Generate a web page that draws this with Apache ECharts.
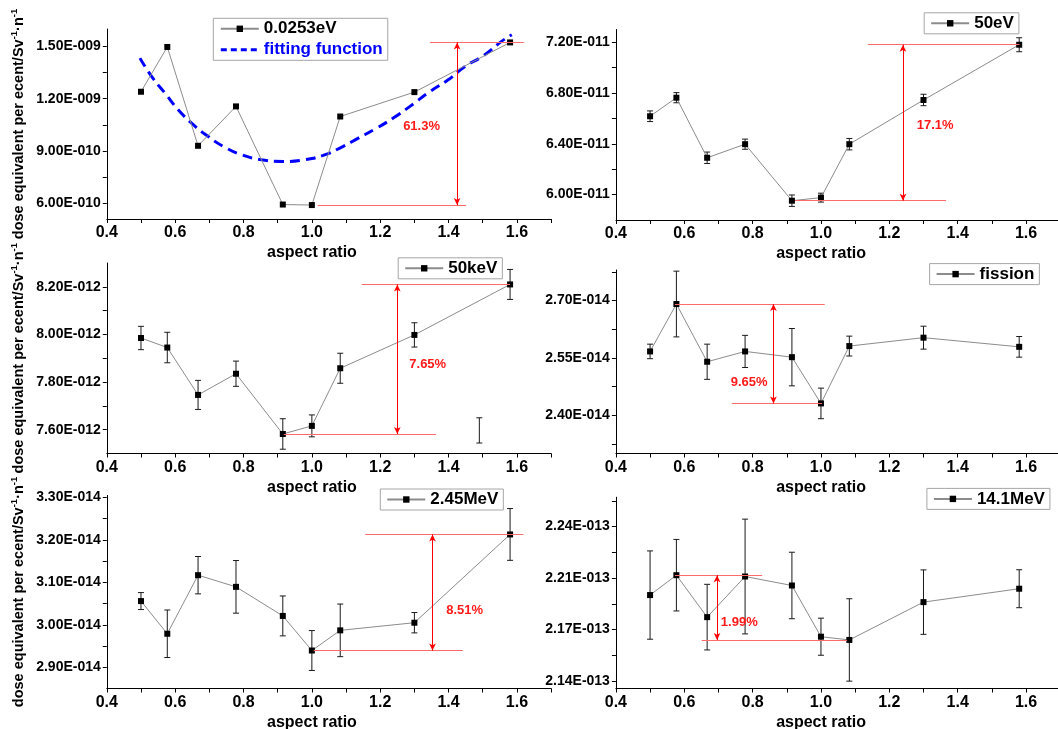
<!DOCTYPE html>
<html>
<head>
<meta charset="utf-8">
<title>Dose equivalent vs aspect ratio</title>
<script src="https://cdn.jsdelivr.net/npm/echarts@6/dist/echarts.min.js"></script>
<style>
  html, body { margin: 0; padding: 0; background: #ffffff; }
  #chart { width: 1058px; height: 729px; }
</style>
</head>
<body>
<div id="chart"></div>
<script>
// ---- data -------------------------------------------------------------
const aspectRatio = [0.5, 0.577, 0.667, 0.778, 0.915, 1.0, 1.083, 1.3, 1.58];

// dose equivalent per source neutron (Sv per neutron), one array per energy
const dose0253eV = [1.240e-9, 1.497e-9, 0.930e-9, 1.156e-9, 0.593e-9, 0.590e-9, 1.098e-9, 1.238e-9, 1.523e-9];

const dose50eV = [6.617e-11, 6.763e-11, 6.290e-11, 6.397e-11, 5.952e-11, 5.976e-11, 6.397e-11, 6.745e-11, 7.180e-11];
const err50eV  = [0.042e-11, 0.040e-11, 0.045e-11, 0.040e-11, 0.045e-11, 0.035e-11, 0.045e-11, 0.045e-11, 0.055e-11];

const dose50keV = [7.985e-12, 7.945e-12, 7.746e-12, 7.835e-12, 7.582e-12, 7.616e-12, 7.858e-12, 7.998e-12, 8.210e-12];
const err50keV  = [0.049e-12, 0.064e-12, 0.061e-12, 0.053e-12, 0.064e-12, 0.046e-12, 0.063e-12, 0.051e-12, 0.063e-12];

const doseFission = [2.567e-14, 2.691e-14, 2.540e-14, 2.567e-14, 2.552e-14, 2.431e-14, 2.581e-14, 2.603e-14, 2.579e-14];
const errFission  = [0.019e-14, 0.086e-14, 0.046e-14, 0.042e-14, 0.075e-14, 0.040e-14, 0.026e-14, 0.030e-14, 0.027e-14];

const dose245MeV = [3.056e-14, 2.979e-14, 3.117e-14, 3.0895e-14, 3.021e-14, 2.9395e-14, 2.987e-14, 3.005e-14, 3.213e-14];
const err245MeV  = [0.020e-14, 0.056e-14, 0.044e-14, 0.062e-14, 0.047e-14, 0.047e-14, 0.062e-14, 0.024e-14, 0.061e-14];

const dose141MeV = [2.1935e-13, 2.207e-13, 2.1785e-13, 2.2061e-13, 2.2000e-13, 2.1652e-13, 2.163e-13, 2.1887e-13, 2.1978e-13];
const err141MeV  = [0.030e-13, 0.0243e-13, 0.0223e-13, 0.039e-13, 0.0226e-13, 0.0126e-13, 0.028e-13, 0.0219e-13, 0.0129e-13];

// lone error bar in the 50keV panel (no marker)
const strayAspect = [1.49];
const strayDose = [7.597e-12];
const strayErr = [0.053e-12];

// fitted curve for the thermal (0.0253eV) case
const fitAspect = [0.497, 0.531, 0.570, 0.609, 0.653, 0.697, 0.741, 0.795, 0.853, 0.916, 0.980, 1.033,
                   1.082, 1.136, 1.185, 1.238, 1.287, 1.346, 1.399, 1.448, 1.502, 1.555, 1.585];
const fit0253eV = [14.33e-10, 13.28e-10, 12.33e-10, 11.37e-10, 10.51e-10, 9.83e-10, 9.26e-10, 8.78e-10, 8.50e-10,
                   8.40e-10, 8.50e-10, 8.75e-10, 9.17e-10, 9.74e-10, 10.26e-10, 10.89e-10, 11.56e-10, 12.42e-10,
                   13.09e-10, 13.85e-10, 14.47e-10, 15.29e-10, 15.67e-10];

const seriesNames = ['0.0253eV', '50eV', '50keV', 'fission', '2.45MeV', '14.1MeV'];
const spreadLabels = ['61.3%', '17.1%', '7.65%', '9.65%', '8.51%', '1.99%'];

// axis ticks
const xTickValues = [0.4, 0.5, 0.6, 0.7, 0.8, 0.9, 1.0, 1.1, 1.2, 1.3, 1.4, 1.5, 1.6, 1.7];
const xLabelValues = [0.4, 0.6, 0.8, 1.0, 1.2, 1.4, 1.6];

const yTicks0253eV = [6.0e-10, 9.0e-10, 1.2e-9, 1.5e-9];
const yMinor0253eV = [7.5e-10, 1.05e-9, 1.35e-9];
const yTicks50eV = [6.0e-11, 6.4e-11, 6.8e-11, 7.2e-11];
const yMinor50eV = [6.2e-11, 6.6e-11, 7.0e-11];
const yTicks50keV = [7.6e-12, 7.8e-12, 8.0e-12, 8.2e-12];
const yMinor50keV = [7.7e-12, 7.9e-12, 8.1e-12];
const yTicksFission = [2.40e-14, 2.55e-14, 2.70e-14];
const yMinorFission = [2.325e-14, 2.475e-14, 2.625e-14, 2.775e-14];
const yTicks245MeV = [2.90e-14, 3.00e-14, 3.10e-14, 3.20e-14, 3.30e-14];
const yMinor245MeV = [2.95e-14, 3.05e-14, 3.15e-14, 3.25e-14];
const yTicks141MeV = [2.135e-13, 2.170e-13, 2.205e-13, 2.240e-13];
const yMinor141MeV = [2.1525e-13, 2.1875e-13, 2.2225e-13, 2.2575e-13];

// ---- panel assembly -----------------------------------------------------
const FONT = '"Liberation Sans", Arial, Helvetica, sans-serif';
const PLOT_W = 444.3;
const X_MIN = 0.4, X_MAX = 1.7;

const panels = [
  { values: dose0253eV, errors: null, yRange: [5.1e-10, 1.6e-9], ticks: yTicks0253eV, minor: yMinor0253eV,
    box: { left: 106.8, top: 29, height: 190 }, legendPos: [213.3, 18.3], yName: true,
    bracket: { top: [1.346, 1.62], bottom: [1.017, 1.451], arrow: 1.425, label: [1.321, 1.041e-9] } },
  { values: dose50eV, errors: err50eV, yRange: [5.8e-11, 7.3e-11], ticks: yTicks50eV, minor: yMinor50eV,
    box: { left: 615.9, top: 29.5, height: 190.5 }, legendPos: [924.2, 12.8], yName: false,
    bracket: { top: [1.137, 1.581], bottom: [0.924, 1.366], arrow: 1.24, label: [1.334, 6.543e-11] } },
  { values: dose50keV, errors: err50keV, yRange: [7.5e-12, 8.3e-12], ticks: yTicks50keV, minor: yMinor50keV,
    box: { left: 106.8, top: 263, height: 190.5 }, legendPos: [398.2, 257.8], yName: true,
    bracket: { top: [1.146, 1.58], bottom: [0.918, 1.363], arrow: 1.25, label: [1.339, 7.875e-12] } },
  { values: doseFission, errors: errFission, yRange: [2.30e-14, 2.78e-14], ticks: yTicksFission, minor: yMinorFission,
    box: { left: 615.9, top: 270, height: 183.5 }, legendPos: [929.6, 263.6], yName: false,
    bracket: { top: [0.573, 1.011], bottom: [0.739, 1.003], arrow: 0.861, label: [0.79, 2.485e-14] } },
  { values: dose245MeV, errors: err245MeV, yRange: [2.85e-14, 3.305e-14], ticks: yTicks245MeV, minor: yMinor245MeV,
    box: { left: 106.8, top: 495.4, height: 193.1 }, legendPos: [380.3, 489], yName: true,
    bracket: { top: [1.156, 1.619], bottom: [1.005, 1.442], arrow: 1.353, label: [1.447, 3.034e-14] } },
  { values: dose141MeV, errors: err141MeV, yRange: [2.13e-13, 2.26e-13], ticks: yTicks141MeV, minor: yMinor141MeV,
    box: { left: 615.9, top: 497.2, height: 191.3 }, legendPos: [926.9, 488.4], yName: false,
    bracket: { top: [0.573, 0.828], bottom: [0.651, 1.076], arrow: 0.696, label: [0.761, 2.175e-13] } }
];

// "1.50E-009" style tick labels
function sciLabel(v) {
  const exp = Math.floor(Math.log10(v) + 1e-9);
  const m = Math.round(v / Math.pow(10, exp) * 100 + 1e-6) / 100;
  return m.toFixed(2) + 'E-' + String(-exp).padStart(3, '0');
}

// vertical error bar with short caps
function renderErrorBar(params, api) {
  const x = api.value(0), y = api.value(1), e = api.value(2);
  const hi = api.coord([x, y + e]);
  const lo = api.coord([x, y - e]);
  const cap = 3;
  const style = { stroke: '#1a1a1a', lineWidth: 1 };
  return {
    type: 'group',
    children: [
      { type: 'line', shape: { x1: hi[0], y1: hi[1], x2: lo[0], y2: lo[1] }, style: style },
      { type: 'line', shape: { x1: hi[0] - cap, y1: hi[1], x2: hi[0] + cap, y2: hi[1] }, style: style },
      { type: 'line', shape: { x1: lo[0] - cap, y1: lo[1], x2: lo[0] + cap, y2: lo[1] }, style: style }
    ]
  };
}

// styles for the spread brackets
const pinkLine = () => ({ color: '#ff6a6a', width: 1, type: 'solid' });
const redLine = () => ({ color: '#ff0000', width: 1, type: 'solid' });

const grids = [], xAxes = [], yAxes = [], series = [], legends = [];

panels.forEach((p, i) => {
  grids.push({ left: p.box.left, top: p.box.top, width: PLOT_W, height: p.box.height,
               containLabel: false, outerBoundsMode: 'none' });

  xAxes.push({
    gridIndex: i, type: 'value', min: X_MIN, max: X_MAX,
    axisLine: { show: true, onZero: false, lineStyle: { color: '#000', width: 1 } },
    axisTick: { show: true, customValues: xTickValues, length: 4, lineStyle: { color: '#000' } },
    axisLabel: { customValues: xLabelValues, formatter: v => v.toFixed(1), margin: 6,
                 fontSize: 16, fontWeight: 'bold', color: '#000', fontFamily: FONT },
    splitLine: { show: false },
    name: 'aspect ratio', nameLocation: 'middle', nameGap: 26, nameMoveOverlap: false,
    nameTextStyle: { fontSize: 16, fontWeight: 'bold', color: '#000', fontFamily: FONT, padding: [0, 34, 0, 0] }
  });

  const yAxis = {
    gridIndex: i, type: 'value', min: p.yRange[0], max: p.yRange[1],
    axisLine: { show: true, onZero: false, lineStyle: { color: '#000', width: 1 } },
    axisTick: { show: true, customValues: p.ticks.concat(p.minor), length: 4, lineStyle: { color: '#000' } },
    axisLabel: { customValues: p.ticks, formatter: sciLabel, margin: 6,
                 fontSize: 14, fontWeight: 'bold', color: '#000', fontFamily: FONT },
    splitLine: { show: false }
  };
  if (p.yName) {
    Object.assign(yAxis, {
      name: 'dose equivalent per ecent/Sv{s|-1}·n{s|-1}',
      nameLocation: 'middle', nameGap: 79, nameRotate: 90, nameMoveOverlap: false,
      nameTextStyle: { fontSize: 14.5, fontWeight: 'bold', color: '#000', fontFamily: FONT, lineHeight: 18,
                       rich: { s: { fontSize: 9.5, fontWeight: 'bold', color: '#000', fontFamily: FONT, verticalAlign: 'top', lineHeight: 18 } } }
    });
  }
  yAxes.push(yAxis);

  const vMax = Math.max(...p.values), vMin = Math.min(...p.values);
  const b = p.bracket;

  series.push({
    type: 'line', name: seriesNames[i], xAxisIndex: i, yAxisIndex: i,
    data: aspectRatio.map((x, k) => [x, p.values[k]]),
    symbol: 'rect', symbolSize: 6, z: 4,
    itemStyle: { color: '#000' },
    lineStyle: { color: '#8c8c8c', width: 1 },
    markLine: {
      silent: true, animation: false, symbol: ['none', 'none'],
      label: { show: false }, lineStyle: redLine(),
      emphasis: { disabled: true },
      data: [
        [{ coord: [b.top[0], vMax], lineStyle: pinkLine() }, { coord: [b.top[1], vMax], lineStyle: pinkLine() }],
        [{ coord: [b.bottom[0], vMin], lineStyle: pinkLine() }, { coord: [b.bottom[1], vMin], lineStyle: pinkLine() }],
        [{ coord: [b.arrow, vMax], symbol: 'arrow', symbolSize: [5, 7], lineStyle: redLine(), itemStyle: { color: '#ff0000' } },
         { coord: [b.arrow, vMin], symbol: 'arrow', symbolSize: [5, 7], lineStyle: redLine(), itemStyle: { color: '#ff0000' } }]
      ]
    },
    markPoint: {
      silent: true, animation: false, symbol: 'circle', symbolSize: 1,
      itemStyle: { color: 'rgba(0,0,0,0)' },
      data: [{
        coord: b.label,
        label: { show: true, position: 'inside', formatter: spreadLabels[i],
                 color: '#ff1a1a', fontSize: 13, fontWeight: 'bold', fontFamily: FONT }
      }]
    }
  });

  if (p.errors) {
    series.push({
      type: 'custom', xAxisIndex: i, yAxisIndex: i, z: 3, silent: true,
      renderItem: renderErrorBar,
      dimensions: ['x', 'y', 'err'], encode: { x: 0, y: 1 },
      data: aspectRatio.map((x, k) => [x, p.values[k], p.errors[k]])
    });
  }

  const legendData = [seriesNames[i]];
  if (i === 0) {
    legendData.push({ name: 'fitting function', textStyle: { color: '#0000ff' },
                      itemStyle: { opacity: 0 },
                      lineStyle: { type: [6, 4], width: 3, color: '#0000ff' } });
  }
  legends.push({
    left: p.legendPos[0], top: p.legendPos[1], orient: 'vertical',
    padding: [2, 5, 2, 6], itemGap: 4, itemWidth: 38, itemHeight: 8,
    borderColor: '#a6a6a6', borderWidth: 1, backgroundColor: '#ffffff',
    selectedMode: false, data: legendData,
    textStyle: { fontSize: 17, fontWeight: 'bold', color: '#000', fontFamily: FONT }
  });
});

// fitted curve in the first panel
series.push({
  type: 'line', name: 'fitting function', xAxisIndex: 0, yAxisIndex: 0,
  data: fitAspect.map((x, k) => [x, fit0253eV[k]]),
  smooth: true, symbol: 'none', z: 2,
  itemStyle: { color: '#0000ff' },
  lineStyle: { color: '#0000ff', width: 3, type: [10, 6] }
});

// lone error bar in the 50keV panel
series.push({
  type: 'custom', xAxisIndex: 2, yAxisIndex: 2, z: 3, silent: true,
  renderItem: renderErrorBar,
  dimensions: ['x', 'y', 'err'], encode: { x: 0, y: 1 },
  data: strayAspect.map((x, k) => [x, strayDose[k], strayErr[k]])
});

const chart = echarts.init(document.getElementById('chart'), null, { renderer: 'canvas' });
chart.setOption({
  animation: false,
  backgroundColor: '#ffffff',
  textStyle: { fontFamily: FONT },
  grid: grids,
  xAxis: xAxes,
  yAxis: yAxes,
  legend: legends,
  series: series
});
</script>
</body>
</html>
